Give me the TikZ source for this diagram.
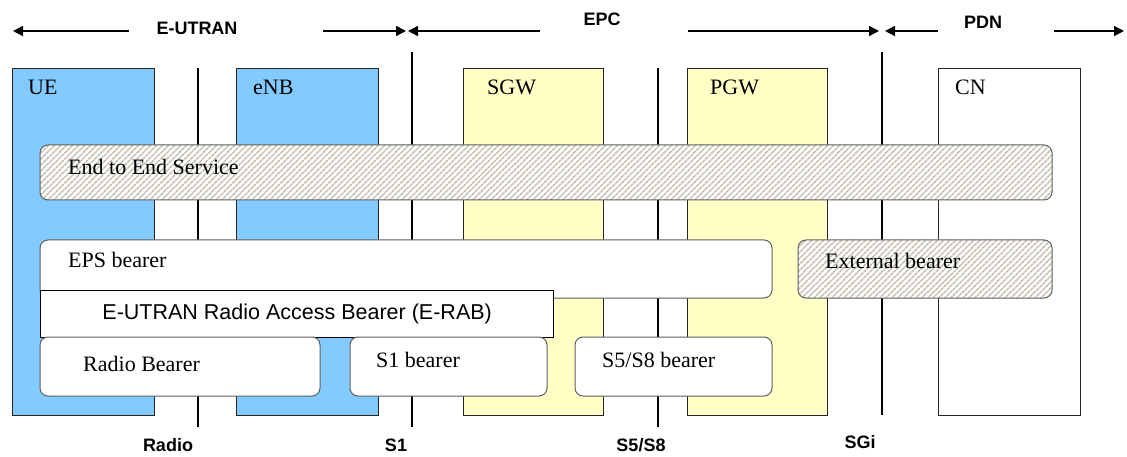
\documentclass[tikz,border=0pt]{standalone}
\usepackage{fontspec}
\setmainfont{Liberation Serif}
\newfontfamily\arialf{Liberation Sans}
\usetikzlibrary{arrows.meta,patterns.meta}
\definecolor{ueblue}{RGB}{130,202,255}
\definecolor{gwyellow}{RGB}{255,255,198}
\definecolor{hatchc}{RGB}{188,183,160}
\definecolor{edge}{RGB}{95,95,95}
\begin{document}
\begin{tikzpicture}[x=1pt,y=-1pt,
  netbox/.style={draw=black!85,line width=1.3pt,anchor=north west,inner sep=0pt,minimum width=#1,minimum height=347pt},
  lbl/.style={anchor=base west,font=\fontsize{22}{24}\selectfont,inner sep=0pt},
  bearer/.style={draw=edge,line width=1pt,rounded corners=8pt,fill=white},
  hatched/.style={draw=edge,line width=1pt,rounded corners=8pt,preaction={fill=white},pattern={Lines[angle=45,distance=4pt,line width=1.5pt]},pattern color=hatchc},
  btxt/.style={anchor=base west,font=\fontsize{22}{24}\selectfont,inner sep=0pt},
  iface/.style={line width=1.3pt},
  domlabel/.style={font=\arialf\bfseries\fontsize{18}{20}\selectfont,inner sep=0pt},
  darr/.style={line width=1.4pt,-{Triangle[length=10pt,width=10pt]}}
]
\useasboundingbox (0,0) rectangle (1127,457);
% network element boxes
\node[netbox=142pt,fill=ueblue] (ue) at (12,68) {};
\node[netbox=142pt,fill=ueblue] (enb) at (236,68) {};
\node[netbox=140pt,fill=gwyellow] (sgw) at (463,68) {};
\node[netbox=140pt,fill=gwyellow] (pgw) at (687,68) {};
\node[netbox=142pt,fill=white] (cn) at (938,68) {};
\node[lbl] (ueL) at (28,95) {UE};
\node[lbl] (enbL) at (253,95) {eNB};
\node[lbl] (sgwL) at (487,95) {SGW};
\node[lbl] (pgwL) at (710,95) {PGW};
\node[lbl] (cnL) at (955,95) {CN};
% interfaces
\coordinate (radT) at (198,68); \coordinate (radB) at (198,427);
\coordinate (s1T) at (412,52); \coordinate (s1B) at (412,427);
\coordinate (s5T) at (658,68); \coordinate (s5B) at (658,427);
\coordinate (sgiT) at (882,52); \coordinate (sgiB) at (882,415);
\draw[iface] (radT) -- (radB);
\draw[iface] (s1T) -- (s1B);
\draw[iface] (s5T) -- (s5B);
\draw[iface] (sgiT) -- (sgiB);
\node[domlabel] (radL) at (168,445) {Radio};
\node[domlabel] (s1L) at (396,445) {S1};
\node[domlabel] (s5L) at (641,445) {S5/S8};
\node[domlabel] (sgiL) at (860,442) {SGi};
% bearers
\draw[hatched] (40,145) rectangle (1052,200);
\node[btxt] (e2e) at (68,175) {End to End Service};
\draw[bearer] (40,240) rectangle (772,298);
\node[btxt] (eps) at (68,267) {EPS bearer};
\draw[hatched] (798,240) rectangle (1052,298);
\node[btxt] (ext) at (825,268) {External bearer};
\node[draw=black,line width=1.3pt,fill=white,anchor=north west,minimum width=513pt,minimum height=47pt,inner sep=0pt,font=\arialf\fontsize{21.5}{24}\selectfont] (erab) at (40,290) {E-UTRAN Radio Access Bearer (E-RAB)};
\draw[bearer] (40,337) rectangle (320,396);
\node[btxt] (rb) at (83,371) {Radio Bearer};
\draw[bearer] (350,337) rectangle (547,396);
\node[btxt] (s1b) at (376,367) {S1 bearer};
\draw[bearer] (575,337) rectangle (772,396);
\node[btxt] (s5b) at (602,367) {S5/S8 bearer};
% domain arrows
\node[domlabel] (eutran) at (197,28) {E-UTRAN};
\node[domlabel] (epc) at (602,19) {EPC};
\node[domlabel] (pdn) at (983,22) {PDN};
\coordinate (a1) at (129,31); \coordinate (a1t) at (13,31);
\coordinate (a2) at (323,31); \coordinate (a2t) at (406,31);
\coordinate (a3) at (540,31); \coordinate (a3t) at (408,31);
\coordinate (a4) at (688,31); \coordinate (a4t) at (879,31);
\coordinate (a5) at (938,31); \coordinate (a5t) at (885,31);
\coordinate (a6) at (1054,31); \coordinate (a6t) at (1124,31);
\draw[darr] (a1) -- (a1t);
\draw[darr] (a2) -- (a2t);
\draw[darr] (a3) -- (a3t);
\draw[darr] (a4) -- (a4t);
\draw[darr] (a5) -- (a5t);
\draw[darr] (a6) -- (a6t);
\end{tikzpicture}
\end{document}
